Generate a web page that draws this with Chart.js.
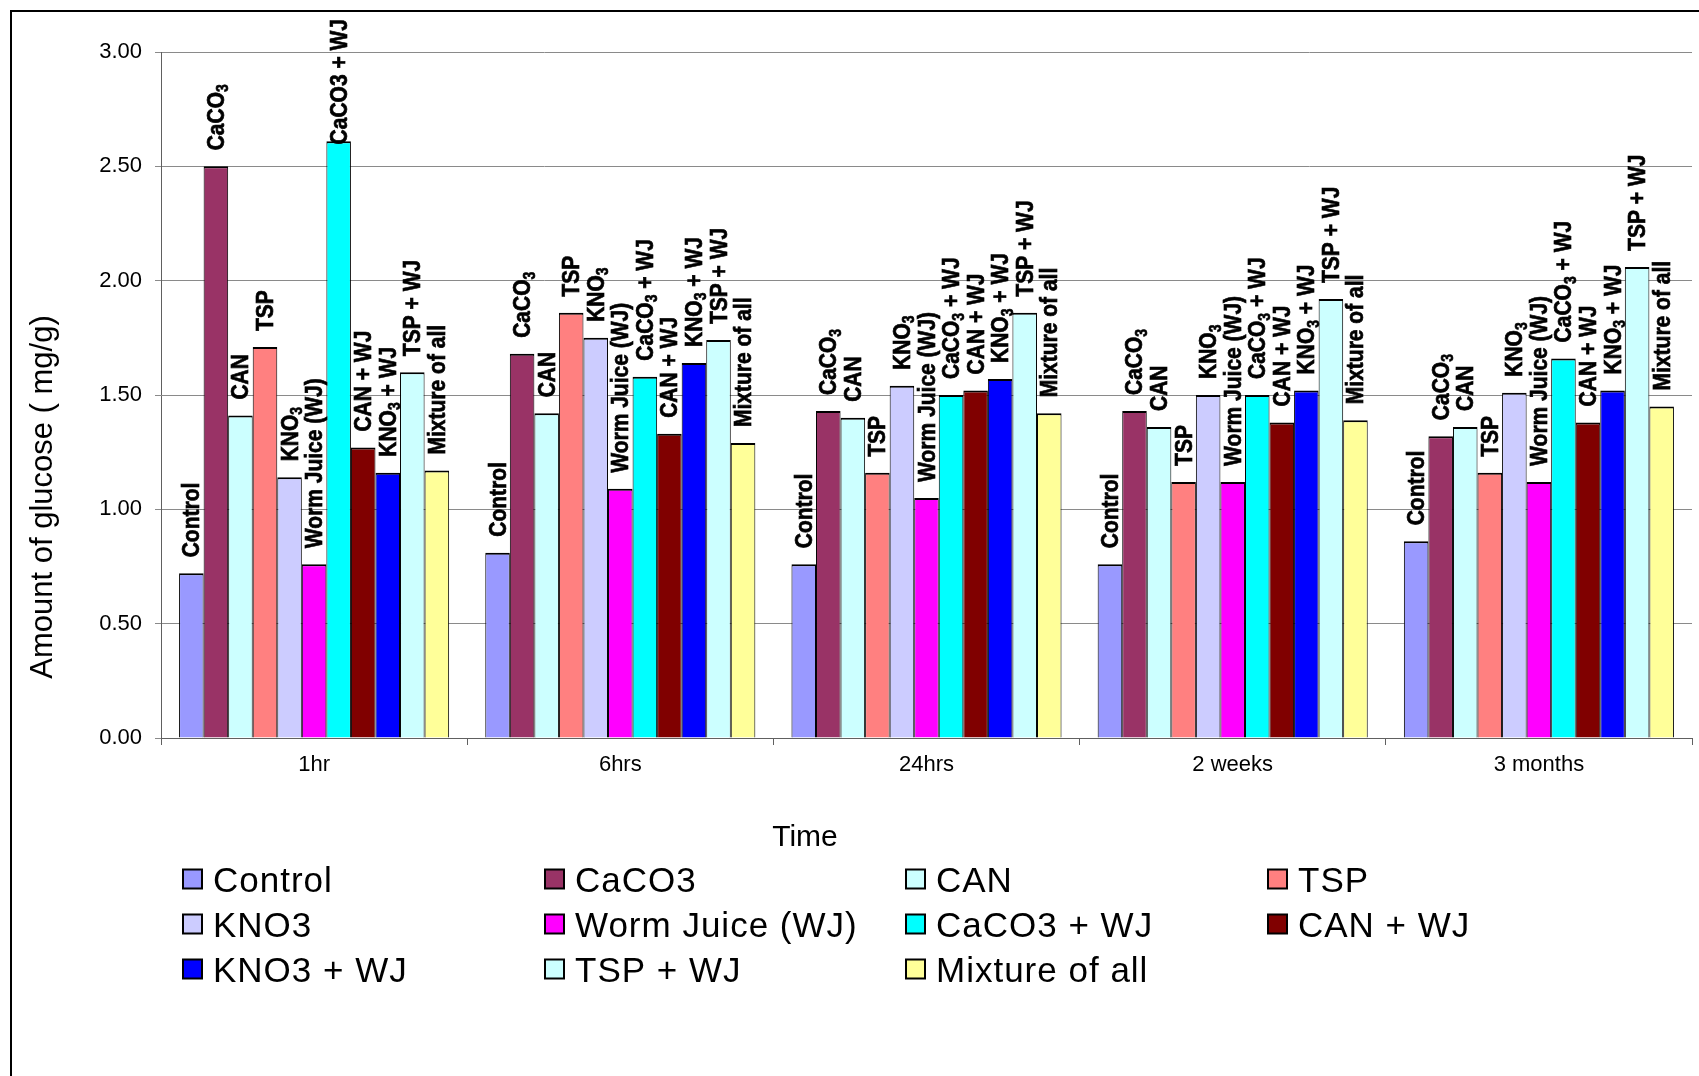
<!DOCTYPE html>
<html>
<head>
<meta charset="utf-8">
<script src="https://cdn.jsdelivr.net/npm/chart.js@4.4.1/dist/chart.umd.min.js"></script>
<style>
  html, body { margin: 0; padding: 0; background: #fff; overflow: hidden; }
  canvas { display: block; }
</style>
</head>
<body>
<canvas id="c" width="1699" height="1076"></canvas>
<script>
// Sampling times (categories)
const timePoints = ['1hr', '6hrs', '24hrs', '2 weeks', '3 months'];

// Amount of glucose (mg/g) per treatment at each time point
const control     = [0.72, 0.81, 0.76, 0.76, 0.86];
const caco3       = [2.50, 1.68, 1.43, 1.43, 1.32];
const can         = [1.41, 1.42, 1.40, 1.36, 1.36];
const tsp         = [1.71, 1.86, 1.16, 1.12, 1.16];
const kno3        = [1.14, 1.75, 1.54, 1.50, 1.51];
const wormJuice   = [0.76, 1.09, 1.05, 1.12, 1.12];
const caco3WJ     = [2.61, 1.58, 1.50, 1.50, 1.66];
const canWJ       = [1.27, 1.33, 1.52, 1.38, 1.38];
const kno3WJ      = [1.16, 1.64, 1.57, 1.52, 1.52];
const tspWJ       = [1.60, 1.74, 1.86, 1.92, 2.06];
const mixtureAll  = [1.17, 1.29, 1.42, 1.39, 1.45];

// Legend names
const seriesNames = ['Control', 'CaCO3', 'CAN', 'TSP', 'KNO3', 'Worm Juice (WJ)',
                     'CaCO3 + WJ', 'CAN + WJ', 'KNO3 + WJ', 'TSP + WJ', 'Mixture of all'];

// Names printed above the bars ("_3" marks a subscript digit)
const barTags = ['Control', 'CaCO_3', 'CAN', 'TSP', 'KNO_3', 'Worm Juice (WJ)',
                 'CaCO_3 + WJ', 'CAN + WJ', 'KNO_3 + WJ', 'TSP + WJ', 'Mixture of all'];
// one bar carries the plain form of its name ("series:group")
const barTagOverrides = { '6:0': 'CaCO3 + WJ' };

// Y axis ticks
const yTickValues = [0, 0.5, 1.0, 1.5, 2.0, 2.5, 3.0];
const yTitle = 'Amount of glucose ( mg/g)';
const xTitle = 'Time';

const seriesColors = ['#9999FF', '#993366', '#CCFFFF', '#FF8080', '#CCCCFF', '#FF00FF',
                      '#00FFFF', '#800000', '#0000FF', '#CCFFFF', '#FFFF99'];
const seriesValues = [control, caco3, can, tsp, kno3, wormJuice, caco3WJ, canWJ, kno3WJ, tspWJ, mixtureAll];

const FONT = '"Liberation Sans", Arial, Helvetica, sans-serif';
const TAG_FONT = 'bold 21px ' + FONT;
const SUB_FONT = 'bold 14px ' + FONT;

// Rotated treatment names above each bar
const barTagPlugin = {
  id: 'barTags',
  afterDatasetsDraw(chart) {
    const ctx = chart.ctx;
    ctx.save();
    ctx.fillStyle = '#000';
    ctx.strokeStyle = '#000';
    ctx.lineWidth = 0.6;
    ctx.textAlign = 'left';
    ctx.textBaseline = 'alphabetic';
    chart.data.datasets.forEach((ds, si) => {
      const meta = chart.getDatasetMeta(si);
      meta.data.forEach((bar, gi) => {
        const tag = barTagOverrides[si + ':' + gi] || barTags[si];
        const parts = tag.split(/_(\d)/);
        const segs = [];
        let len = 0;
        parts.forEach((p, k) => {
          if (!p) return;
          const sub = k % 2 === 1;
          ctx.font = sub ? SUB_FONT : TAG_FONT;
          const w = ctx.measureText(p).width;
          segs.push({ p, sub, w });
          len += w;
        });
        let start = bar.y - 16;
        if (start - len < 19) start = 19 + len;
        ctx.save();
        ctx.translate(bar.x + 8, start);
        ctx.rotate(-Math.PI / 2);
        ctx.scale(1, 1.12);
        let x = 0;
        segs.forEach(s => {
          ctx.font = s.sub ? SUB_FONT : TAG_FONT;
          const dy = s.sub ? 4 : 0;
          ctx.fillText(s.p, x, dy);
          ctx.strokeText(s.p, x, dy);
          x += s.w;
        });
        ctx.restore();
      });
    });
    ctx.restore();
  }
};

// Outer frame, axis titles and the grid legend
const decorPlugin = {
  id: 'decor',
  afterDraw(chart) {
    const ctx = chart.ctx;
    ctx.save();
    // frame
    ctx.strokeStyle = '#000';
    ctx.lineWidth = 2;
    ctx.strokeRect(11, 11, 1750, 1150);

    // y title
    ctx.fillStyle = '#000';
    ctx.font = '31px ' + FONT;
    ctx.textAlign = 'center';
    ctx.textBaseline = 'middle';
    ctx.save();
    ctx.translate(43, 497);
    ctx.rotate(-Math.PI / 2);
    ctx.fillText(yTitle, 0, 0);
    ctx.restore();

    // x title
    ctx.font = '30px ' + FONT;
    ctx.fillText(xTitle, 805, 838);

    // legend: 4 columns x 3 rows
    const colX = [183, 545, 906, 1268];
    const rowY = [879, 924, 969];
    ctx.textAlign = 'left';
    ctx.textBaseline = 'alphabetic';
    ctx.font = '35px ' + FONT;
    if ('letterSpacing' in ctx) ctx.letterSpacing = '1px';
    chart.data.datasets.forEach((ds, i) => {
      const x = colX[i % 4];
      const y = rowY[Math.floor(i / 4)];
      ctx.fillStyle = ds.backgroundColor;
      ctx.fillRect(x, y - 9.5, 19, 19);
      ctx.strokeStyle = '#000';
      ctx.lineWidth = 2;
      ctx.strokeRect(x, y - 9.5, 19, 19);
      ctx.fillStyle = '#000';
      ctx.fillText(ds.label, x + 30, y + 12.5);
    });
    ctx.restore();
  }
};

const datasets = seriesNames.map((name, i) => ({
  label: name,
  data: seriesValues[i],
  backgroundColor: seriesColors[i],
  borderColor: '#000',
  borderWidth: { top: 2, left: 1, right: 1, bottom: 0 },
  borderSkipped: false,
  barPercentage: 1.0,
  categoryPercentage: 0.882
}));

new Chart(document.getElementById('c'), {
  type: 'bar',
  data: { labels: timePoints, datasets },
  options: {
    responsive: false,
    devicePixelRatio: 1,
    animation: false,
    layout: { padding: { left: 0, top: 52, right: 7, bottom: 0 } },
    plugins: {
      legend: { display: false },
      tooltip: { enabled: false },
      title: { display: false }
    },
    scales: {
      x: {
        afterFit(scale) { scale.height = 1076 - 738; },
        grid: {
          offset: true,
          drawOnChartArea: false,
          drawTicks: true,
          tickLength: 7,
          color: '#606060',
          lineWidth: 1
        },
        border: { display: true, color: '#606060', width: 1 },
        ticks: {
          color: '#000',
          font: { family: FONT, size: 22 },
          padding: 7,
          maxRotation: 0
        }
      },
      y: {
        min: 0,
        max: 3,
        afterFit(scale) { scale.width = 161; },
        afterBuildTicks(scale) { scale.ticks = yTickValues.map(v => ({ value: v })); },
        grid: {
          color: '#8a8a8a',
          lineWidth: 1,
          drawTicks: true,
          tickLength: 6
        },
        border: { display: true, color: '#606060', width: 1 },
        ticks: {
          color: '#000',
          font: { family: FONT, size: 22 },
          padding: 13,
          callback: v => Number(v).toFixed(2)
        }
      }
    }
  },
  plugins: [barTagPlugin, decorPlugin]
});
</script>
</body>
</html>
